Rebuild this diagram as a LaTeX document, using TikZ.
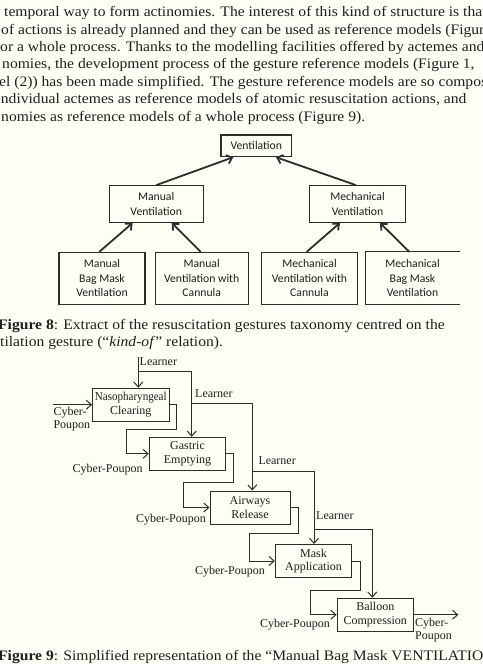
\documentclass[tikz,border=0pt]{standalone}
\usepackage{fontspec}
\usepackage{graphicx}
\setmainfont{Liberation Serif}
\newfontfamily\bodyfont{Liberation Serif}
\newfontfamily\boxfont{Carlito}
\newfontfamily\flowfont{Liberation Serif}
\usetikzlibrary{arrows.meta}

\definecolor{paper}{RGB}{254,254,244}
\definecolor{ink}{RGB}{30,30,30}
\definecolor{rule}{RGB}{45,45,45}

\newlength\linewd
\newcommand\bodysize{\fontsize{14.5}{17.4}\selectfont}
\newcommand\bline[1]{\scalebox{\bodyscale}[1]{#1}}
\AtBeginDocument{%
  \settowidth\linewd{\bodyfont\bodysize nomies as reference models of a whole process (Figure 9).}%
  \pgfmathsetmacro\bodyscale{364/\linewd}}

\tikzset{
  bodyline/.style={anchor=base west, inner sep=0pt, text=ink, font=\bodyfont\bodysize},
  taxbox/.style={draw=rule, line width=1.1pt, align=center, inner sep=0pt, text=ink,
    font=\boxfont\fontsize{11.7}{14.7}\selectfont},
  taxopen/.style={taxbox, draw=none},
  kindof/.style={draw=rule, line width=1.8pt, -{Straight Barb[length=5pt,width=9pt]}},
  stepbox/.style={draw=rule, line width=1pt, minimum width=76.5pt, minimum height=33pt,
    align=center, inner sep=0pt, text=ink, font=\flowfont\fontsize{12}{13.3}\selectfont},
  flow/.style={draw=rule, line width=1pt, -{Straight Barb[length=5pt,width=9pt]}},
  wire/.style={draw=rule, line width=1pt},
  lbl/.style={inner sep=0pt, text=ink, font=\flowfont\fontsize{12}{12.2}\selectfont, align=left},
}

\begin{document}
\begin{tikzpicture}[x=1pt,y=-1pt]
\fill[paper] (0,0) rectangle (482,664);
\useasboundingbox (0,0) rectangle (482,664);
\clip (0,0) rectangle (482,664);

% running text of the page
\node[bodyline] (t1) at (4,16.7)   {\bline{temporal way to form actinomies. The interest of this kind of structure is that}};
\node[bodyline] (t2) at (1,34.1)   {\bline{of actions is already planned and they can be used as reference models (Figure}};
\node[bodyline] (t3) at (0,51.5)   {\bline{or a whole process. Thanks to the modelling facilities offered by actemes and}};
\node[bodyline] (t4) at (2,68.9)   {\bline{nomies, the development process of the gesture reference models (Figure 1,}};
\node[bodyline] (t5) at (-1,86.3)  {\bline{el (2)) has been made simplified. The gesture reference models are so composed}};
\node[bodyline] (t6) at (0.7,103.7){\bline{ndividual actemes as reference models of atomic resuscitation actions, and}};
\node[bodyline] (t7) at (1,121.1)  {\bline{nomies as reference models of a whole process (Figure 9).}};

% Figure 8: kind-of taxonomy
\node[taxbox, minimum width=70.7pt, minimum height=21.7pt] (vent) at (256.3,145.8) {Ventilation};
\node[taxbox, minimum width=94.3pt, minimum height=36.6pt] (man)  at (156.2,204) {Manual\\Ventilation};
\node[taxbox, minimum width=96.4pt, minimum height=36.6pt] (mech) at (357.5,204) {Mechanical\\Ventilation};
\node[taxbox, minimum width=86pt,   minimum height=51.7pt] (mbag) at (102,278.2) {Manual\\Bag Mask\\Ventilation};
\node[taxbox, minimum width=93.3pt, minimum height=51.7pt] (mcan) at (201.7,278.2) {Manual\\Ventilation with\\Cannula};
\node[taxbox, minimum width=95.6pt, minimum height=51.7pt] (kcan) at (309.5,278.2) {Mechanical\\Ventilation with\\Cannula};
\node[taxopen, minimum width=93pt,  minimum height=51.7pt] (kbag) at (412.5,278.2) {Mechanical\\Bag Mask\\Ventilation};
\draw[draw=rule, line width=1.1pt] (kbag.north east) -- (kbag.north west) -- (kbag.south west) -- (kbag.south east);

\draw[kindof] (man.north) -- ([xshift=-23pt]vent.south);
\draw[kindof] ([xshift=-1.5pt]mech.north) -- ([xshift=19.7pt]vent.south);
\draw[kindof] ([xshift=-2.7pt]mbag.north) -- ([xshift=-23.5pt]man.south);
\draw[kindof] ([xshift=-1pt]mcan.north) -- ([xshift=15.5pt]man.south);
\draw[kindof] ([xshift=-2.8pt]kcan.north) -- ([xshift=-17.5pt]mech.south);
\draw[kindof] ([xshift=-3.2pt]kbag.north) -- ([xshift=22.5pt]mech.south);

\node[bodyline] (cap8a) at (-2,329.3) {\bline{\textbf{Figure 8}: Extract of the resuscitation gestures taxonomy centred on the}};
\node[bodyline] (cap8b) at (0,346.7)  {\bline{tilation gesture (“\textit{kind-of}” relation).}};

% Figure 9: sequence of actemes
\node[stepbox] (naso) at (130.8,404.7) {\scalebox{0.92}[1]{Nasopharyngeal}\\Clearing};
\node[stepbox] (gast) at (187.5,453.8) {Gastric\\Emptying};
\node[stepbox, minimum width=80pt] (airw) at (250,507.5) {Airways\\Release};
\node[stepbox] (mask) at (313.5,561) {Mask\\Application};
\node[stepbox] (ball) at (375.3,614.7) {Balloon\\Compression};

% learner inputs
\node[lbl, anchor=base west] (l1) at (139.5,365) {Learner};
\node[lbl, anchor=base west] (l2) at (195,397) {Learner};
\node[lbl, anchor=base west] (l3) at (258.3,464.7) {Learner};
\node[lbl, anchor=base west] (l4) at (316,519.5) {Learner};

\coordinate (ja) at (138.3,357);
\coordinate (jb) at (138.3,371.7);
\coordinate (jc) at (191.7,403.7);
\coordinate (jd) at (252.3,471.7);
\coordinate (je) at (314,529.3);
\coordinate (xb) at (191.7,0);
\coordinate (xc) at (252.3,0);
\coordinate (xd) at (314,0);
\coordinate (xe) at (372.3,0);

\draw[flow] (ja) -- (ja |- naso.north);
\draw[flow] (jb) -| (xb |- gast.north);
\draw[flow] (jc) -| (xc |- airw.north);
\draw[flow] (jd) -| (xd |- mask.north);
\draw[flow] (je) -| (xe |- ball.north);

% cyber-poupon chain
\coordinate (cin)  at (53.3,404.7);
\coordinate (cout) at (458.3,614.7);
\coordinate (k1) at (126.7,429.3);
\coordinate (k2) at (183.3,482.5);
\coordinate (k3) at (249,533.3);
\coordinate (k4) at (310.7,590.7);

\draw[flow] (cin) -- (naso.west);
\draw[flow] (naso.east) -- ++(7,0) |- (k1) |- (gast.west);
\draw[flow] (gast.east) -- ++(7.6,0) |- (k2) |- (airw.west);
\draw[flow] (airw.east) -- ++(8.3,0) |- (k3) |- (mask.west);
\draw[flow] (mask.east) -- ++(8.3,0) |- (k4) |- (ball.west);
\draw[flow] (ball.east) -- (cout);

\node[lbl, anchor=north west] (c0) at (53.3,407.4) {Cyber-\\Poupon};
\node[lbl, anchor=base east] (c1) at (142.7,472) {Cyber-Poupon};
\node[lbl, anchor=base east] (c2) at (206,522.7) {Cyber-Poupon};
\node[lbl, anchor=base east] (c3) at (265,574.5) {Cyber-Poupon};
\node[lbl, anchor=base east] (c4) at (330,627) {Cyber-Poupon};
\node[lbl, anchor=north west] (c5) at (415,618.3) {Cyber-\\Poupon};

\node[bodyline] (cap9) at (-2,660) {\bline{\textbf{Figure 9}: Simplified representation of the “Manual Bag Mask VENTILATION”}};
\end{tikzpicture}
\end{document}
